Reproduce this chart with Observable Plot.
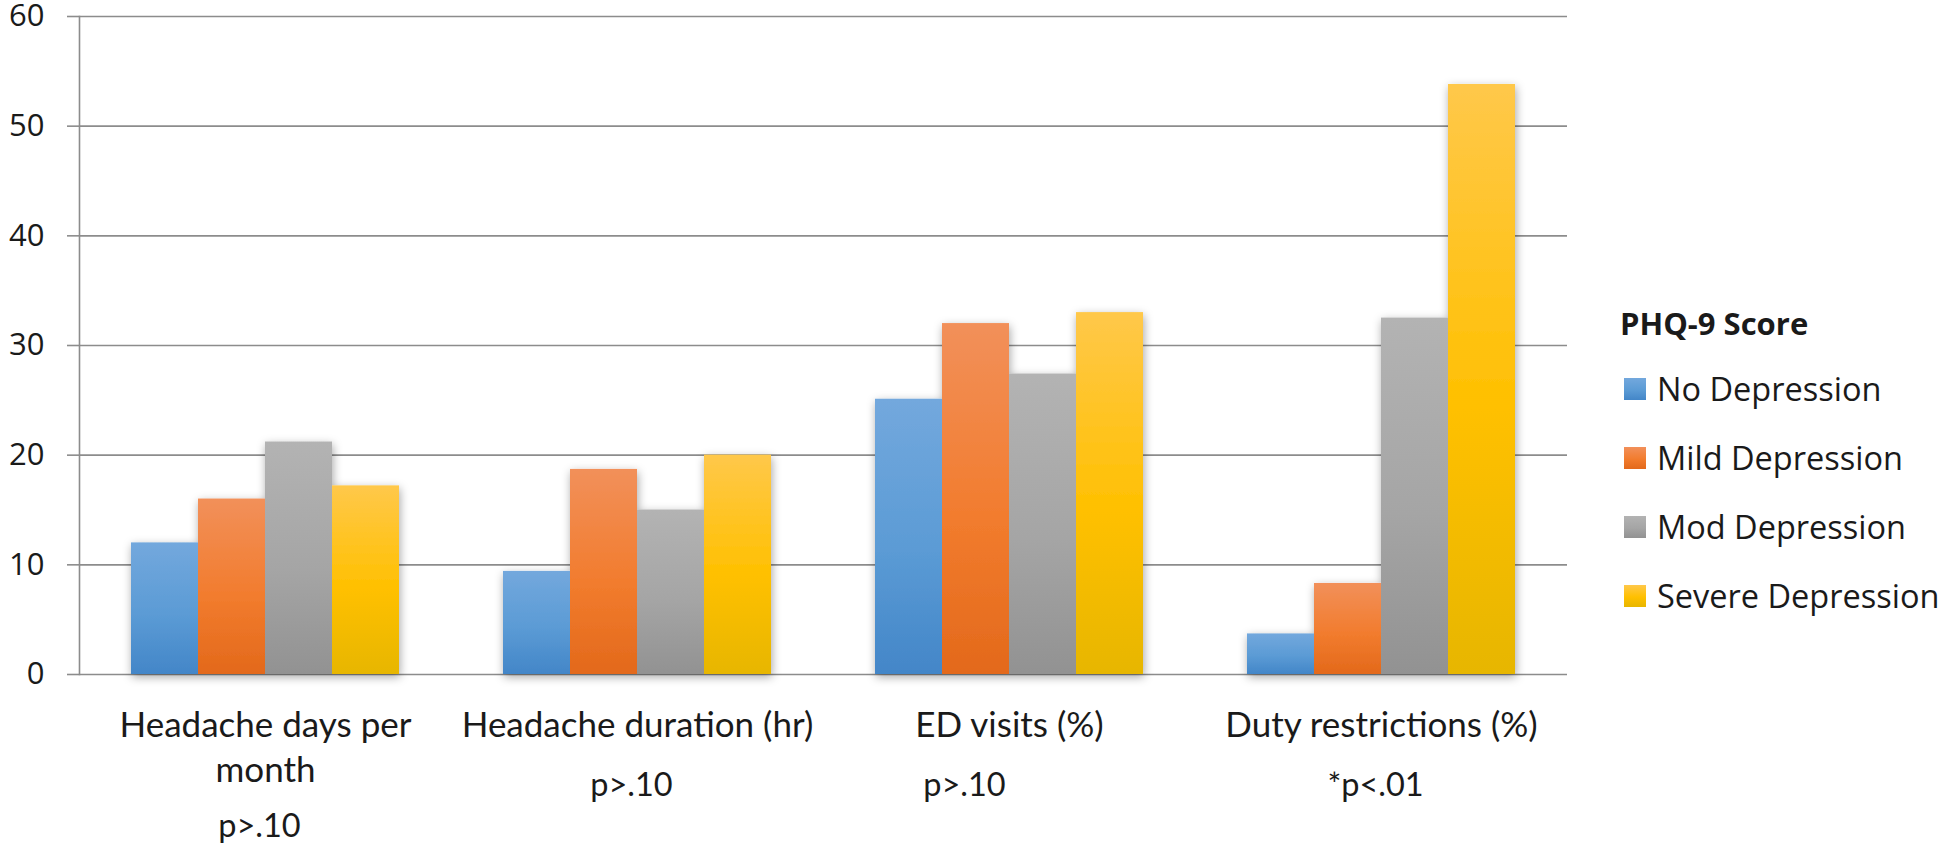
<!DOCTYPE html>
<html><head><meta charset="utf-8">
<script src="https://cdn.jsdelivr.net/npm/d3@7"></script>
<script src="https://cdn.jsdelivr.net/npm/@observablehq/plot@0.6"></script>
<style>
html,body{margin:0;padding:0;background:#fff;}
#wrap{position:relative;width:1946px;height:846px;overflow:hidden;background:#fff;}
#chart{position:absolute;left:0;top:0;}
#legend{position:absolute;left:1620px;top:307.5px;font-family:"Open Sans",sans-serif;color:#1a1a1a;}
#legend .title{font-weight:700;font-size:31px;line-height:31px;height:46px;white-space:nowrap;}
#legend .row{position:relative;height:69px;line-height:69px;font-size:32.5px;padding-left:37px;white-space:nowrap;}
#legend .sw{position:absolute;left:4px;top:24.5px;width:22px;height:22px;}
</style></head>
<body><div id="wrap"><div id="chart"></div><div id="legend"></div></div>
<script>
// ---- data ----
const categories = ["Headache days per month", "Headache duration (hr)", "ED visits (%)", "Duty restrictions (%)"];
const categoryLabels = ["Headache days per\nmonth", "Headache duration (hr)", "ED visits (%)", "Duty restrictions (%)"];
const pValues = ["p>.10", "p>.10", "p>.10", "*p<.01"];
const series = ["No Depression", "Mild Depression", "Mod Depression", "Severe Depression"];
const noDepression = [12.0, 9.4, 25.1, 3.7];
const mildDepression = [16.0, 18.7, 32.0, 8.3];
const modDepression = [21.2, 15.0, 27.4, 32.5];
const severeDepression = [17.2, 20.0, 33.0, 53.8];
const yTicks = [0, 10, 20, 30, 40, 50, 60];
const legendTitle = "PHQ-9 Score";

// ---- styles ----
const palette = [
  ["#73a8dd", "#5b9bd5", "#4386c8"],
  ["#f2905a", "#f27c2e", "#e3691b"],
  ["#b3b3b3", "#a5a5a5", "#929292"],
  ["#ffc84a", "#ffc000", "#e7b600"]
];

const seriesValues = [noDepression, mildDepression, modDepression, severeDepression];
const rows = categories.flatMap((c, i) => series.map((s, j) => ({category: c, series: s, value: seriesValues[j][i]})));
const labelRows = categories.map((c, i) => ({category: c, label: categoryLabels[i], p: pValues[i]}));

const grid = "#8c8c8c";
const labTxt = {frameAnchor: "bottom", lineAnchor: "top", fontSize: 35, fontFamily: "Lato", fill: "#1a1a1a", lineHeight: 1.286};
const pTxt = {frameAnchor: "bottom", lineAnchor: "top", fontSize: 32.5, fontFamily: "Lato", fill: "#1a1a1a", lineHeight: 1};

const chart = Plot.plot({
  width: 1946, height: 846,
  marginLeft: 77, marginRight: 378, marginTop: 16, marginBottom: 172,
  style: {background: "transparent", fontFamily: "Open Sans", overflow: "visible"},
  fx: {domain: categories, padding: 0, axis: null, label: null},
  x: {domain: series, paddingInner: 0, paddingOuter: 0.751, axis: null, label: null},
  y: {domain: [0, 60], label: null},
  color: {domain: series, range: series.map((s, i) => `url(#grad${i})`)},
  marks: [
    Plot.ruleY(yTicks, {stroke: grid, strokeWidth: 1.6}),
    Plot.axisY({ticks: yTicks, tickSize: 12, tickPadding: 23, fontSize: 31, fontFamily: "Open Sans",
      stroke: grid, strokeWidth: 1.6, fill: "#1a1a1a", label: null}),
    Plot.frame({anchor: "left", facetAnchor: "left", stroke: grid, strokeWidth: 1.6}),
    Plot.barY(rows, {fx: "category", x: "series", y: "value", fill: "series"}),
    Plot.text(labelRows, {fx: "category", text: "label", dy: 31, ...labTxt}),
    Plot.text(labelRows, {filter: d => d.category === categories[0], fx: "category", text: "p", dy: 139, dx: -6, ...pTxt}),
    Plot.text(labelRows, {filter: d => d.category === categories[1] || d.category === categories[3], fx: "category", text: "p", dy: 98, dx: -6, ...pTxt}),
    Plot.text(labelRows, {filter: d => d.category === categories[2], fx: "category", text: "p", dy: 98, dx: -45, ...pTxt})
  ]
});

// gradients + shadow
const svg = d3.select(chart);
const defs = svg.insert("defs", ":first-child");
palette.forEach((p, i) => {
  const g = defs.append("linearGradient").attr("id", `grad${i}`).attr("x1", 0).attr("y1", 0).attr("x2", 0).attr("y2", 1);
  g.append("stop").attr("offset", "0%").attr("stop-color", p[0]);
  g.append("stop").attr("offset", "55%").attr("stop-color", p[1]);
  g.append("stop").attr("offset", "100%").attr("stop-color", p[2]);
});
const f = defs.append("filter").attr("id", "shadow").attr("x", "-30%").attr("y", "-10%").attr("width", "160%").attr("height", "125%");
f.append("feDropShadow").attr("dx", 1).attr("dy", 3).attr("stdDeviation", 5).attr("flood-color", "#000").attr("flood-opacity", 0.35);
svg.selectAll('g[aria-label="bar"]').attr("filter", "url(#shadow)");

document.getElementById("chart").appendChild(chart);

// legend
const legend = d3.select("#legend");
legend.append("div").attr("class", "title").text(legendTitle);
series.forEach((s, i) => {
  const r = legend.append("div").attr("class", "row");
  r.append("span").attr("class", "sw").style("background", `linear-gradient(to bottom, ${palette[i][0]}, ${palette[i][1]} 55%, ${palette[i][2]})`);
  r.append("span").text(s);
});
</script>
</body></html>
